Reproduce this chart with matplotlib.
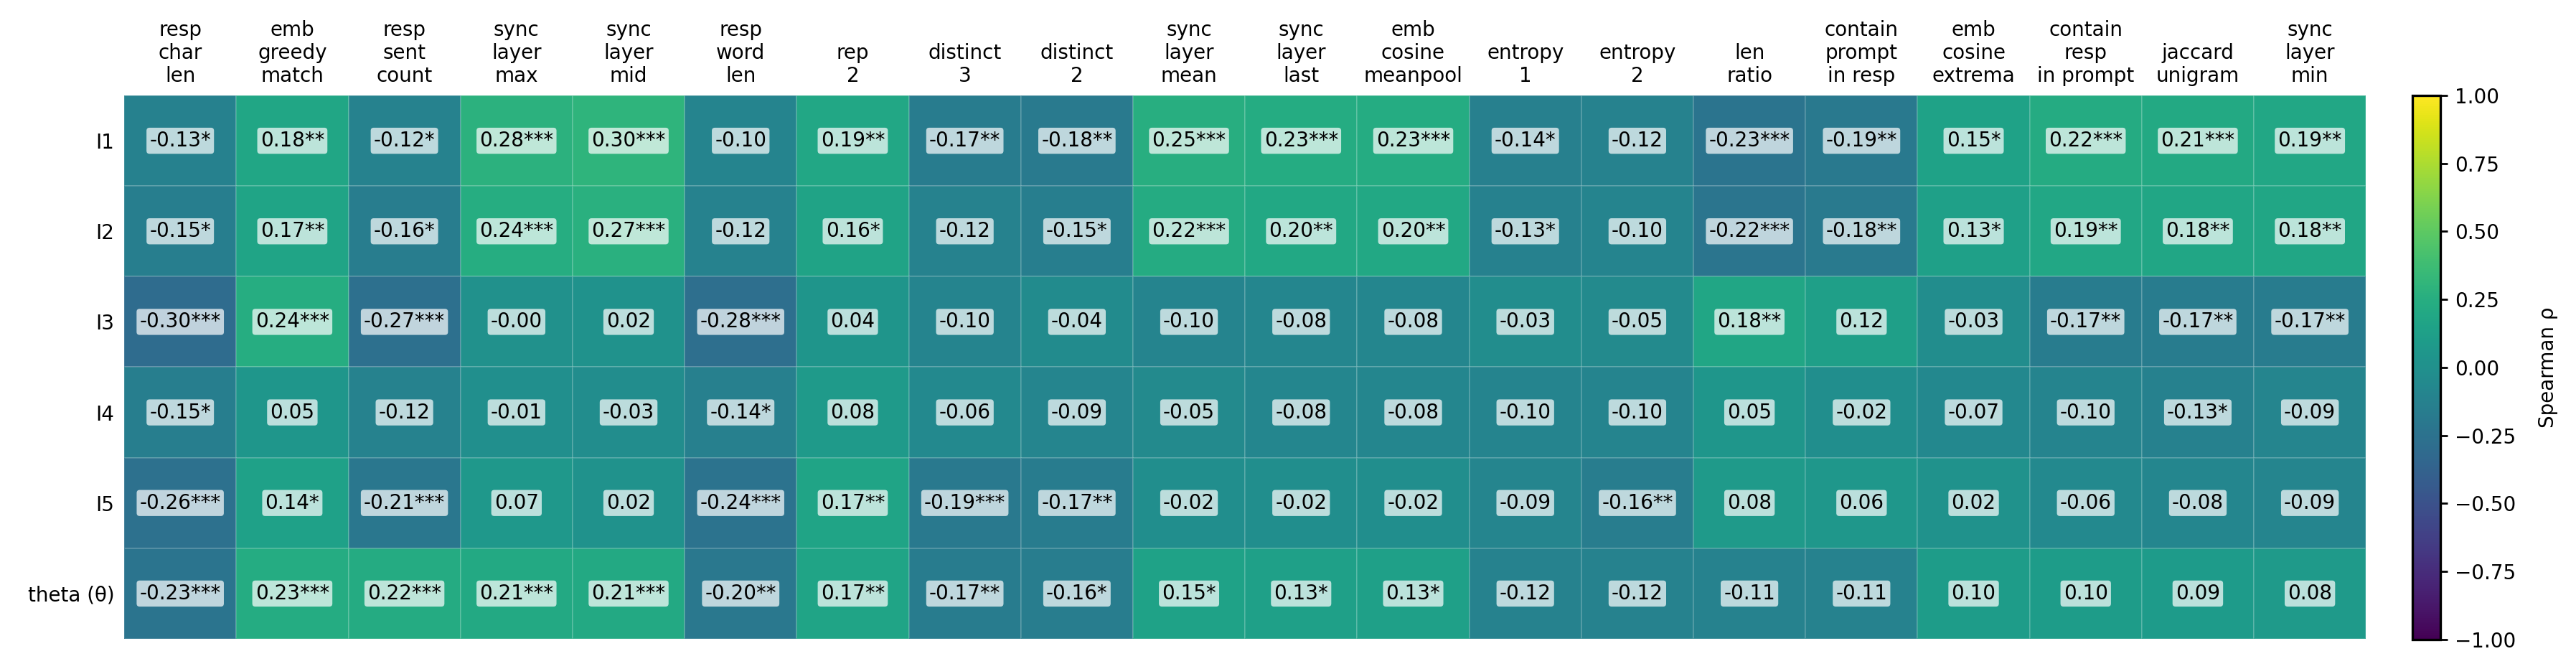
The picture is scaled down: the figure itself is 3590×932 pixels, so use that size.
import matplotlib
matplotlib.use("Agg")
import matplotlib.pyplot as plt
import numpy as np

# --- data -----------------------------------------------------------------
metrics = [
    "resp\nchar\nlen", "emb\ngreedy\nmatch", "resp\nsent\ncount",
    "sync\nlayer\nmax", "sync\nlayer\nmid", "resp\nword\nlen", "rep\n2",
    "distinct\n3", "distinct\n2", "sync\nlayer\nmean", "sync\nlayer\nlast",
    "emb\ncosine\nmeanpool", "entropy\n1", "entropy\n2", "len\nratio",
    "contain\nprompt\nin resp", "emb\ncosine\nextrema", "contain\nresp\nin prompt",
    "jaccard\nunigram", "sync\nlayer\nmin",
]
targets = ["I1", "I2", "I3", "I4", "I5", "theta (θ)"]

rho_i1 = [-0.13, 0.18, -0.12, 0.28, 0.30, -0.10, 0.19, -0.17, -0.18, 0.25,
          0.23, 0.23, -0.14, -0.12, -0.23, -0.19, 0.15, 0.22, 0.21, 0.19]
rho_i2 = [-0.15, 0.17, -0.16, 0.24, 0.27, -0.12, 0.16, -0.12, -0.15, 0.22,
          0.20, 0.20, -0.13, -0.10, -0.22, -0.18, 0.13, 0.19, 0.18, 0.18]
rho_i3 = [-0.30, 0.24, -0.27, -0.00, 0.02, -0.28, 0.04, -0.10, -0.04, -0.10,
          -0.08, -0.08, -0.03, -0.05, 0.18, 0.12, -0.03, -0.17, -0.17, -0.17]
rho_i4 = [-0.15, 0.05, -0.12, -0.01, -0.03, -0.14, 0.08, -0.06, -0.09, -0.05,
          -0.08, -0.08, -0.10, -0.10, 0.05, -0.02, -0.07, -0.10, -0.13, -0.09]
rho_i5 = [-0.26, 0.14, -0.21, 0.07, 0.02, -0.24, 0.17, -0.19, -0.17, -0.02,
          -0.02, -0.02, -0.09, -0.16, 0.08, 0.06, 0.02, -0.06, -0.08, -0.09]
rho_theta = [-0.23, 0.23, 0.22, 0.21, 0.21, -0.20, 0.17, -0.17, -0.16, 0.15,
             0.13, 0.13, -0.12, -0.12, -0.11, -0.11, 0.10, 0.10, 0.09, 0.08]

# number of significance stars per cell
stars_i1 = [1, 2, 1, 3, 3, 0, 2, 2, 2, 3, 3, 3, 1, 0, 3, 2, 1, 3, 3, 2]
stars_i2 = [1, 2, 1, 3, 3, 0, 1, 0, 1, 3, 2, 2, 1, 0, 3, 2, 1, 2, 2, 2]
stars_i3 = [3, 3, 3, 0, 0, 3, 0, 0, 0, 0, 0, 0, 0, 0, 2, 0, 0, 2, 2, 2]
stars_i4 = [1, 0, 0, 0, 0, 1, 0, 0, 0, 0, 0, 0, 0, 0, 0, 0, 0, 0, 1, 0]
stars_i5 = [3, 1, 3, 0, 0, 3, 2, 3, 2, 0, 0, 0, 0, 2, 0, 0, 0, 0, 0, 0]
stars_theta = [3, 3, 3, 3, 3, 2, 2, 2, 1, 1, 1, 1, 0, 0, 0, 0, 0, 0, 0, 0]

rho = np.array([rho_i1, rho_i2, rho_i3, rho_i4, rho_i5, rho_theta])
stars = np.array([stars_i1, stars_i2, stars_i3, stars_i4, stars_i5, stars_theta])

# --- figure ---------------------------------------------------------------
fig = plt.figure(figsize=(17.955, 4.66), dpi=200)
ax = fig.add_axes([0.0482, 0.0451, 0.8700, 0.8122])
cax = fig.add_axes([0.9363, 0.0440, 0.0109, 0.8133])

mesh = ax.pcolormesh(rho, cmap="viridis", vmin=-1, vmax=1,
                     edgecolors=(1, 1, 1, 0.15), linewidth=0.6)
ax.set_xlim(0, rho.shape[1])
ax.set_ylim(rho.shape[0], 0)

for i in range(rho.shape[0]):
    for j in range(rho.shape[1]):
        txt = f"{rho[i, j]:.2f}" + "*" * stars[i, j]
        ax.text(j + 0.5, i + 0.5, txt, ha="center", va="center", fontsize=10,
                color="black",
                bbox=dict(boxstyle="round,pad=0.15", facecolor="white",
                          edgecolor="none", alpha=0.7))

ax.xaxis.tick_top()
ax.set_xticks(np.arange(len(metrics)) + 0.5)
ax.set_xticklabels(metrics, fontsize=10)
ax.set_yticks(np.arange(len(targets)) + 0.5)
ax.set_yticklabels(targets, fontsize=10)
ax.tick_params(axis="x", length=0, pad=4.5)
ax.tick_params(axis="y", length=0, pad=5)
for s in ax.spines.values():
    s.set_visible(False)

cb = fig.colorbar(mesh, cax=cax)
cb.set_ticks(np.arange(-1, 1.01, 0.25))
cb.ax.tick_params(labelsize=10, width=1.0)
cb.outline.set_linewidth(1.2)
cb.set_label("Spearman ρ", fontsize=10, labelpad=11)

fig.savefig("out.png", dpi=200)
plt.close(fig)
